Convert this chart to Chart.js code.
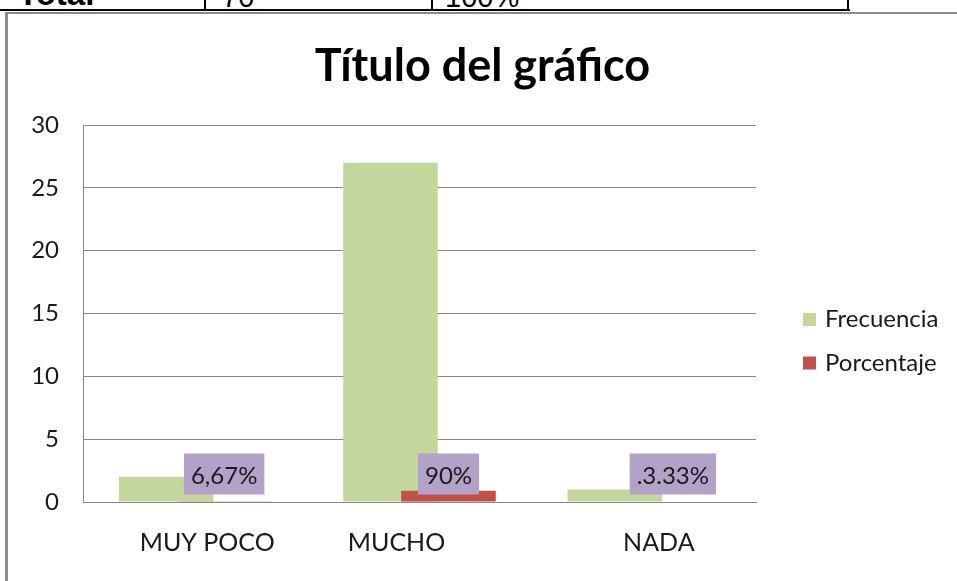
<!DOCTYPE html>
<html>
<head>
<meta charset="utf-8">
<script src="https://cdn.jsdelivr.net/npm/chart.js@4.4.0/dist/chart.umd.min.js"></script>
<style>
  body { margin: 0; background: #fff; width: 957px; height: 581px; overflow: hidden; position: relative; font-family: "Liberation Sans", Arial, sans-serif; }
  .cell { position: absolute; top: -17px; font-size: 29px; line-height: 29px; color: #000; white-space: nowrap; }
  .hline { position: absolute; left: 0; top: 9px; width: 850px; height: 2px; background: #000; }
  .vline { position: absolute; top: 0; width: 2px; height: 11px; background: #000; }
  #frame { position: absolute; left: 5px; top: 12px; width: 949px; height: 567px; border-left: 3px solid #8c8c8c; border-top: 2px solid #8c8c8c; }
</style>
</head>
<body>
<!-- bottom of the table row above the chart -->
<div class="cell" style="left:18px;font-weight:bold;font-size:33px;top:-21px">Total</div>
<div class="cell" style="left:222px">70</div>
<div class="cell" style="left:445px">100%</div>
<div class="vline" style="left:204px"></div>
<div class="vline" style="left:431px"></div>
<div class="vline" style="left:847px"></div>
<div class="hline"></div>

<div id="frame">
  <canvas id="chartCanvas" width="949" height="567"></canvas>
</div>

<script>
// Chart data
const categories = ['MUY POCO', 'MUCHO', 'NADA'];
const frecuencia = [2, 27, 1];
const porcentaje = [0.0667, 0.9, 0.0333];
const pctLabels = ['6,67%', '90%', '.3.33%'];
const yTicks = [0, 5, 10, 15, 20, 25, 30];

// label offsets as in the original document
const labelShift = [12, -23, 15];

const FONT = 'Lato, "Open Sans", sans-serif';
const TEXT = '#1a1a1a';
const GRID = '#898989';

// draw datasets first-to-last so the red bars sit on top of the green ones
const drawForward = {
    id: 'drawForward',
    beforeDatasetsDraw(chart) {
        chart.getSortedVisibleDatasetMetas().forEach(meta => meta.controller.draw());
        return false;
    }
};

// category labels, purple value boxes and legend
const extras = {
    id: 'extras',
    afterDraw(chart) {
        const ctx = chart.ctx;
        const area = chart.chartArea;
        const xScale = chart.scales.x;
        const base = chart.scales.y.getPixelForValue(0);
        ctx.save();
        ctx.textBaseline = 'middle';

        // x labels
        ctx.font = '25px ' + FONT;
        ctx.fillStyle = TEXT;
        ctx.textAlign = 'center';
        categories.forEach((c, i) => {
            ctx.fillText(c, xScale.getPixelForValue(i) + labelShift[i], area.bottom + 41);
        });

        // value boxes over the red bars
        ctx.font = '24px ' + FONT;
        const meta = chart.getDatasetMeta(1);
        meta.data.forEach((bar, i) => {
            const w = ctx.measureText(pctLabels[i]).width + 14;
            const h = 41;
            const cy = base - 28;
            ctx.fillStyle = '#b3a2c7';
            ctx.fillRect(bar.x - w / 2, cy - h / 2, w, h);
            ctx.fillStyle = TEXT;
            ctx.fillText(pctLabels[i], bar.x, cy + 2);
        });

        // legend
        ctx.font = '24px ' + FONT;
        ctx.textAlign = 'left';
        const lx = area.right + 47;
        const ly = (area.top + area.bottom) / 2 + 6;
        chart.data.datasets.forEach((ds, i) => {
            const y = ly + i * 43.5;
            ctx.fillStyle = ds.backgroundColor;
            ctx.fillRect(lx, y - 6.5, 13, 13);
            ctx.fillStyle = TEXT;
            ctx.fillText(ds.label, lx + 22, y);
        });
        ctx.restore();
    }
};

new Chart(document.getElementById('chartCanvas'), {
    type: 'bar',
    data: {
        labels: categories,
        datasets: [
            { label: 'Frecuencia', data: frecuencia, backgroundColor: '#c3d69b' },
            { label: 'Porcentaje', data: porcentaje, backgroundColor: '#c0504d' }
        ]
    },
    options: {
        responsive: false,
        animation: false,
        devicePixelRatio: 1,
        categoryPercentage: 0.517,
        barPercentage: 1.63,
        layout: { padding: { left: 0, right: 0, bottom: 79, top: 0 } },
        plugins: {
            legend: { display: false },
            tooltip: { enabled: false },
            title: {
                display: true,
                text: 'Título del gráfico',
                color: '#000',
                font: { family: FONT, size: 45, weight: 'bold' },
                padding: { top: 25, bottom: 32 }
            }
        },
        scales: {
            x: {
                grid: { display: false, drawTicks: false },
                border: { display: true, color: GRID, width: 1 },
                ticks: { display: false }
            },
            y: {
                min: 0,
                max: 30,
                afterBuildTicks: scale => { scale.ticks = yTicks.map(v => ({ value: v })); },
                afterFit: scale => { scale.width = 75; },
                grid: { color: GRID, lineWidth: 1, drawTicks: false },
                border: { display: true, color: GRID, width: 1 },
                ticks: { padding: 24, color: TEXT, font: { family: FONT, size: 24 } }
            },
            // empty right-hand axis that reserves room for the legend
            legendSpace: {
                position: 'right',
                min: 0,
                max: 30,
                afterFit: scale => { scale.width = 201; },
                grid: { display: false, drawTicks: false },
                border: { display: false },
                ticks: { display: false }
            }
        }
    },
    plugins: [drawForward, extras]
});
</script>
</body>
</html>
